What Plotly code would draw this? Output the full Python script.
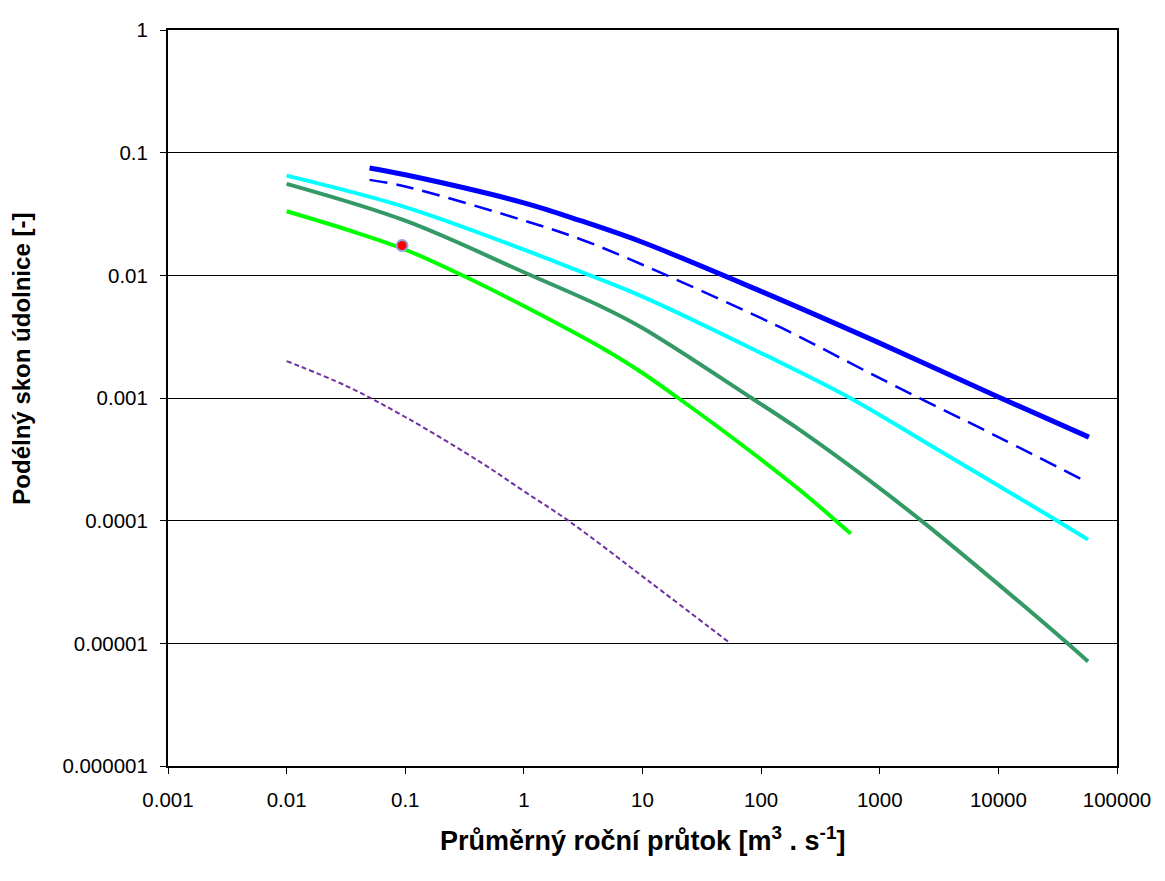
import plotly.graph_objects as go

# --- data ---
blue_x = [0.05, 0.1, 1, 3, 10, 100, 1000, 10000, 58000]
blue_y = [0.075, 0.066, 0.039, 0.0279, 0.0186, 0.0074, 0.0028, 0.00102, 0.00048]

bluedash_x = [0.05, 0.1, 1, 3, 10, 100, 213, 1000, 10000, 54000]
bluedash_y = [0.060, 0.053, 0.028, 0.0197, 0.0122, 0.00447, 0.00314, 0.00145, 0.00048, 0.00021]

cyan_x = [0.01, 0.1, 1, 3, 10, 100, 562, 2800, 31300, 57000]
cyan_y = [0.065, 0.036, 0.0162, 0.0107, 0.0067, 0.00232, 0.0010, 0.00040, 0.00010, 0.00007]

dgreen_x = [0.01, 0.1, 1, 4.4, 10, 83, 213, 776, 2320, 10360, 37800, 57000]
dgreen_y = [0.0557, 0.0279, 0.0106, 0.00562, 0.00372, 0.0010, 0.000547, 0.000221,
            0.0000973, 0.0000294, 0.0000101, 0.0000071]

green_x = [0.01, 0.034, 0.1, 0.29, 1, 5, 10, 20, 70, 213, 434, 570]
green_y = [0.0333, 0.0232, 0.0162, 0.0102, 0.00562, 0.00243, 0.00160, 0.00100,
           0.00041, 0.000177, 0.0000986, 0.0000783]

purple_x = [0.01, 0.032, 0.1, 0.43, 1, 2.37, 10.9, 55]
purple_y = [0.002, 0.00125, 0.0007, 0.0003, 0.000174, 0.0001, 0.000033, 0.00001]

point_x = [0.094]
point_y = [0.0175]

x_tickvals = [0.001, 0.01, 0.1, 1, 10, 100, 1000, 10000, 100000]
x_ticktext = ["0.001", "0.01", "0.1", "1", "10", "100", "1000", "10000", "100000"]
y_tickvals = [1, 0.1, 0.01, 0.001, 0.0001, 0.00001, 0.000001]
y_ticktext = ["1", "0.1", "0.01", "0.001", "0.0001", "0.00001", "0.000001"]

x_title = "Průměrný roční průtok [m<sup>3</sup> . s<sup>-1</sup>]"
y_title = "Podélný skon údolnice [-]"

fig = go.Figure()

def add_line(x, y, color, width, dash="solid"):
    fig.add_trace(go.Scatter(
        x=x, y=y, mode="lines",
        line=dict(color=color, width=width, dash=dash, shape="spline", smoothing=1.0),
        showlegend=False, hoverinfo="skip"))

add_line(purple_x, purple_y, "#7030A0", 2, "5px,3px")
add_line(green_x, green_y, "#00FF00", 4)
add_line(dgreen_x, dgreen_y, "#339966", 4)
add_line(cyan_x, cyan_y, "#00FFFF", 4)
add_line(bluedash_x, bluedash_y, "#0000FF", 2.5, "18px,9px")
add_line(blue_x, blue_y, "#0000FF", 5)

fig.add_trace(go.Scatter(
    x=point_x, y=point_y, mode="markers",
    marker=dict(color="#FF0000", size=11, line=dict(color="#8EA9DB", width=2)),
    showlegend=False, hoverinfo="skip"))

font_family = "Liberation Sans, Arial, sans-serif"

# page body has an 8px margin; compensate so the plot box lands where the reference has it
W, H = 1157, 873
ML, MR, MT, MB = 160, 48, 10, 115
plot_w = W - ML - MR
plot_h = H - MT - MB

fig.update_layout(
    width=W, height=H,
    margin=dict(l=ML, r=MR, t=MT, b=MB),
    paper_bgcolor="white", plot_bgcolor="white",
    font=dict(family=font_family, size=20, color="black"),
    xaxis=dict(
        type="log", range=[-3, 5],
        tickvals=x_tickvals, ticktext=x_ticktext,
        showgrid=False, zeroline=False,
        showline=True, linecolor="black", linewidth=2, mirror=True,
        ticks="outside", ticklen=6, tickcolor="black", tickwidth=1,
        ticklabelstandoff=8,
        tickfont=dict(family=font_family, size=20.5, color="black"),
    ),
    yaxis=dict(
        type="log", range=[-6, 0],
        tickvals=y_tickvals, ticktext=y_ticktext,
        showgrid=True, gridcolor="black", gridwidth=1, zeroline=False,
        showline=True, linecolor="black", linewidth=2, mirror=True,
        ticks="outside", ticklen=6, tickcolor="black", tickwidth=1,
        ticklabelstandoff=8,
        tickfont=dict(family=font_family, size=20.5, color="black"),
    ),
    annotations=[
        dict(text="<b>" + x_title + "</b>",
             x=(642 - 8 - ML) / plot_w, xref="paper",
             y=(H - MB - (840 - 8)) / plot_h, yref="paper",
             showarrow=False, font=dict(family=font_family, size=27, color="black"),
             xanchor="center", yanchor="middle"),
        dict(text="<b>" + y_title + "</b>",
             x=(22 - 8 - ML) / plot_w, xref="paper",
             y=(H - MB - (352 - 8)) / plot_h, yref="paper",
             showarrow=False, textangle=-90,
             font=dict(family=font_family, size=24, color="black"),
             xanchor="center", yanchor="middle"),
    ],
)

fig.write_html("out.html")
